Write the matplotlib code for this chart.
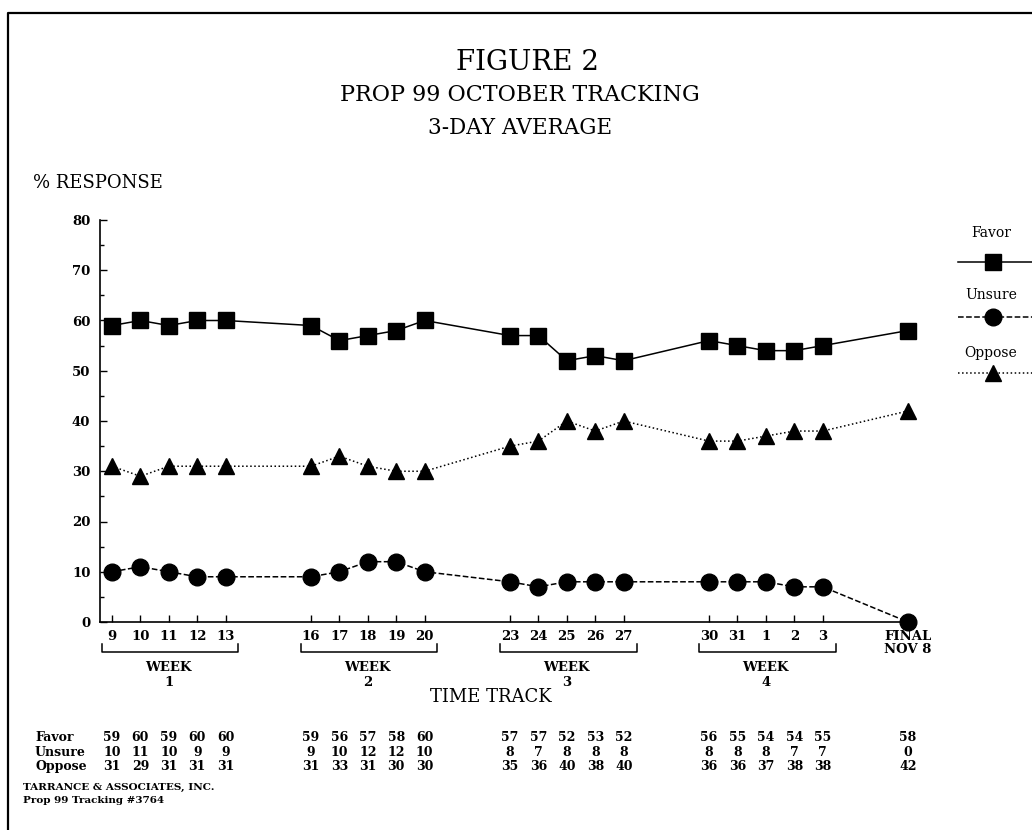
import matplotlib.pyplot as plt
from matplotlib.lines import Line2D
from matplotlib.transforms import blended_transform_factory

# Datos
day_labels = ['9', '10', '11', '12', '13', '16', '17', '18', '19', '20',
              '23', '24', '25', '26', '27', '30', '31', '1', '2', '3', 'FINAL\nNOV 8']
slots = [0, 1, 2, 3, 4, 7, 8, 9, 10, 11, 14, 15, 16, 17, 18, 21, 22, 23, 24, 25, 28]
favor = [59, 60, 59, 60, 60, 59, 56, 57, 58, 60, 57, 57, 52, 53, 52, 56, 55, 54, 54, 55, 58]
unsure = [10, 11, 10, 9, 9, 9, 10, 12, 12, 10, 8, 7, 8, 8, 8, 8, 8, 8, 7, 7, 0]
oppose = [31, 29, 31, 31, 31, 31, 33, 31, 30, 30, 35, 36, 40, 38, 40, 36, 36, 37, 38, 38, 42]
weeks = ['1', '2', '3', '4']
series = [('Favor', favor, '-', 's'), ('Unsure', unsure, '--', 'o'), ('Oppose', oppose, ':', '^')]

plt.rcParams['font.family'] = 'DejaVu Serif'
W, H = 1032, 830
fig = plt.figure(figsize=(W / 100, H / 100), dpi=100)

def fx(px):
    return px / W

def fy(py):
    return 1 - py / H

ax = fig.add_axes([fx(100), fy(622), fx(912 - 100), (622 - 220) / H])

msize = {'s': 11, 'o': 12, '^': 12}
for name, vals, ls, mk in series:
    ax.plot(slots, vals, linestyle=ls, marker=mk, color='black', lw=1.1,
            markersize=msize[mk], clip_on=False)

ax.set_xlim(-0.42, 28.14)
ax.set_ylim(0, 80)
ax.set_yticks(range(0, 81, 10))
ax.set_yticks(range(5, 80, 10), minor=True)
ax.set_xticks(slots)
ax.set_xticklabels(day_labels, fontsize=9.5, fontweight='bold', linespacing=1.0)
for lab in ax.get_yticklabels():
    lab.set_fontweight('bold')
ax.tick_params(axis='y', direction='in', length=5, width=1, labelsize=9.5, pad=7)
ax.tick_params(axis='y', which='minor', direction='in', length=3, width=1)
ax.tick_params(axis='x', direction='in', length=5, width=1, pad=6)
for s in ['top', 'right']:
    ax.spines[s].set_visible(False)
for s in ['left', 'bottom']:
    ax.spines[s].set_linewidth(1.2)

# Semanas bajo el eje
trans = blended_transform_factory(ax.transData, fig.transFigure)
for i, wk in enumerate(weeks):
    grp = slots[i * 5:(i + 1) * 5]
    x0, x1 = grp[0] - 0.35, grp[-1] + 0.45
    ax.add_artist(Line2D([x0, x0, x1, x1], [fy(644), fy(652), fy(652), fy(644)],
                         transform=trans, color='black', lw=1.1, clip_on=False))
    mid = grp[2]
    fig.text(mid, fy(667), 'WEEK', transform=trans, ha='center', va='center',
             fontsize=9.5, fontweight='bold')
    fig.text(mid, fy(682), wk, transform=trans, ha='center', va='center',
             fontsize=9.5, fontweight='bold')

fig.text(fx(491), fy(697), 'TIME TRACK', ha='center', va='center', fontsize=13)

# Títulos
fig.text(fx(527), fy(62), 'FIGURE 2', ha='center', va='center', fontsize=20)
fig.text(fx(520), fy(95), 'PROP 99 OCTOBER TRACKING', ha='center', va='center', fontsize=16)
fig.text(fx(520), fy(128), '3-DAY AVERAGE', ha='center', va='center', fontsize=15.5)
fig.text(fx(33), fy(183), '% RESPONSE', ha='left', va='center', fontsize=13)

# Leyenda manual
leg_y = [(233, 262), (295, 317), (353, 373)]
for (name, vals, ls, mk), (ty, ly) in zip(series, leg_y):
    fig.text(fx(991), fy(ty), name, ha='center', va='center', fontsize=10)
    fig.add_artist(Line2D([fx(958), fx(1040)], [fy(ly), fy(ly)], transform=fig.transFigure,
                          color='black', linestyle=ls, lw=1.1))
    fig.add_artist(Line2D([fx(993)], [fy(ly)], transform=fig.transFigure, color='black',
                          marker=mk, markersize=msize[mk], linestyle='none'))

# Tabla de valores
row_y = [737, 752, 766]
for (name, vals, ls, mk), ry in zip(series, row_y):
    fig.text(fx(35), fy(ry), name, ha='left', va='center', fontsize=9, fontweight='bold')
    for x, v in zip(slots, vals):
        fig.text(x, fy(ry), str(v), transform=trans, ha='center', va='center',
                 fontsize=9, fontweight='bold')

fig.text(fx(23), fy(787), 'TARRANCE & ASSOCIATES, INC.', ha='left', va='center',
         fontsize=7.5, fontweight='bold')
fig.text(fx(23), fy(800), 'Prop 99 Tracking #3764', ha='left', va='center',
         fontsize=7.5, fontweight='bold')

# Marco
fig.add_artist(Line2D([fx(8), fx(8), 1.0], [0.0, fy(13), fy(13)], transform=fig.transFigure,
                      color='black', lw=1.6))

fig.savefig('out.png', dpi=100)
